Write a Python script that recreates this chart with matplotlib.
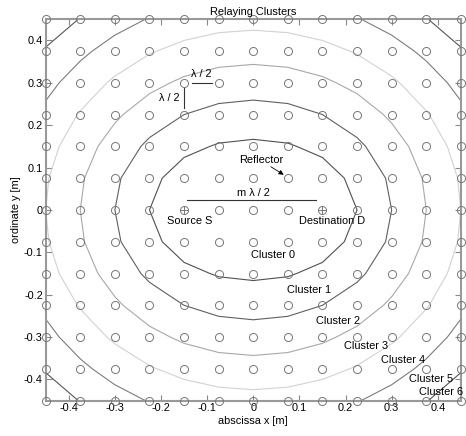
import numpy as np
import matplotlib
matplotlib.use("Agg")
import matplotlib.pyplot as plt

plt.rcParams['font.family'] = ['Liberation Sans', 'DejaVu Sans']

# Relay grid (spacing lambda/2 = 0.075 m)
grid_x = [-0.45, -0.375, -0.3, -0.225, -0.15, -0.075, 0.0, 0.075, 0.15, 0.225, 0.3, 0.375, 0.45]
grid_y = [-0.45, -0.375, -0.3, -0.225, -0.15, -0.075, 0.0, 0.075, 0.15, 0.225, 0.3, 0.375, 0.45]

# Source and destination nodes
source_xy = (-0.15, 0.0)
dest_xy = (0.15, 0.0)

# Cluster boundaries: total path length S -> relay -> D [m]
boundary_levels = [0.45, 0.6, 0.75, 0.9, 1.05, 1.2]
boundary_colors = ['#505050', '#606060', '#a8a8a8', '#d2d2d2', '#7c7c7c', '#555555']

cluster_names = ['Cluster 0', 'Cluster 1', 'Cluster 2', 'Cluster 3',
                 'Cluster 4', 'Cluster 5', 'Cluster 6']
cluster_label_x = [0.043, 0.121, 0.184, 0.245, 0.325, 0.386, 0.406]
cluster_label_y = [-0.106, -0.189, -0.262, -0.322, -0.355, -0.399, -0.429]

ticks = [-0.4, -0.3, -0.2, -0.1, 0.0, 0.1, 0.2, 0.3, 0.4]
tick_labels = ['-0.4', '-0.3', '-0.2', '-0.1', '0', '0.1', '0.2', '0.3', '0.4']

fig = plt.figure(figsize=(4.66, 4.36), dpi=100)
ax = fig.add_axes([0.098, 0.081, 0.891, 0.875])

X, Y = np.meshgrid(grid_x, grid_y)
path_len = (np.hypot(X - source_xy[0], Y - source_xy[1]) +
            np.hypot(X - dest_xy[0], Y - dest_xy[1]))
ax.contour(X, Y, path_len, levels=boundary_levels, colors=boundary_colors,
           linewidths=0.8)

mk_color = '#777777'
ax.plot(X.ravel(), Y.ravel(), linestyle='none', marker='o', markersize=5.8,
        markerfacecolor='none', markeredgecolor=mk_color, markeredgewidth=0.7,
        clip_on=False, zorder=3)
ax.plot([source_xy[0], dest_xy[0]], [source_xy[1], dest_xy[1]], linestyle='none',
        marker='+', markersize=5.8, markeredgecolor=mk_color, markeredgewidth=0.7,
        zorder=3)

fs = 7.9
# lambda/2 spacing markers
ax.plot([-0.133, -0.09], [0.3, 0.3], color='#333333', lw=0.8)
ax.plot([-0.15, -0.15], [0.288, 0.24], color='#333333', lw=0.8)
ax.text(-0.112, 0.31, 'λ / 2', fontsize=fs, ha='center', va='bottom')
ax.text(-0.16, 0.265, 'λ / 2', fontsize=fs, ha='right', va='center')

# m lambda/2 path difference
ax.plot([-0.143, 0.137], [0.024, 0.024], color='#333333', lw=0.8)
ax.text(0.0, 0.029, 'm λ / 2', fontsize=fs, ha='center', va='bottom')

# Reflector
ax.text(0.017, 0.117, 'Reflector', fontsize=fs, ha='center', va='center')
ax.annotate('', xy=(0.066, 0.083), xytext=(0.038, 0.102),
            arrowprops=dict(arrowstyle='-|>', color='black', lw=0.6,
                            mutation_scale=7, shrinkA=0, shrinkB=0))

ax.text(-0.137, -0.026, 'Source S', fontsize=fs, ha='center', va='center')
ax.text(0.170, -0.026, 'Destination D', fontsize=fs, ha='center', va='center')

for name, lx, ly in zip(cluster_names, cluster_label_x, cluster_label_y):
    ax.text(lx, ly, name, fontsize=fs, ha='center', va='center', clip_on=False)

ax.set_xlim(-0.45, 0.45)
ax.set_ylim(-0.45, 0.45)
ax.set_xticks(ticks)
ax.set_xticklabels(tick_labels)
ax.set_yticks(ticks)
ax.set_yticklabels(tick_labels)
ax.tick_params(direction='in', length=4, width=0.8, color='#888888',
               labelsize=fs, top=True, right=True, pad=2)
for sp in ax.spines.values():
    sp.set_color('#999999')
    sp.set_linewidth(1.5)

ax.set_title('Relaying Clusters', fontsize=fs, pad=3)
ax.set_xlabel('abscissa x [m]', fontsize=fs, labelpad=2)
ax.set_ylabel('ordinate y [m]', fontsize=fs, labelpad=2)

fig.savefig('out.png', dpi=100)
